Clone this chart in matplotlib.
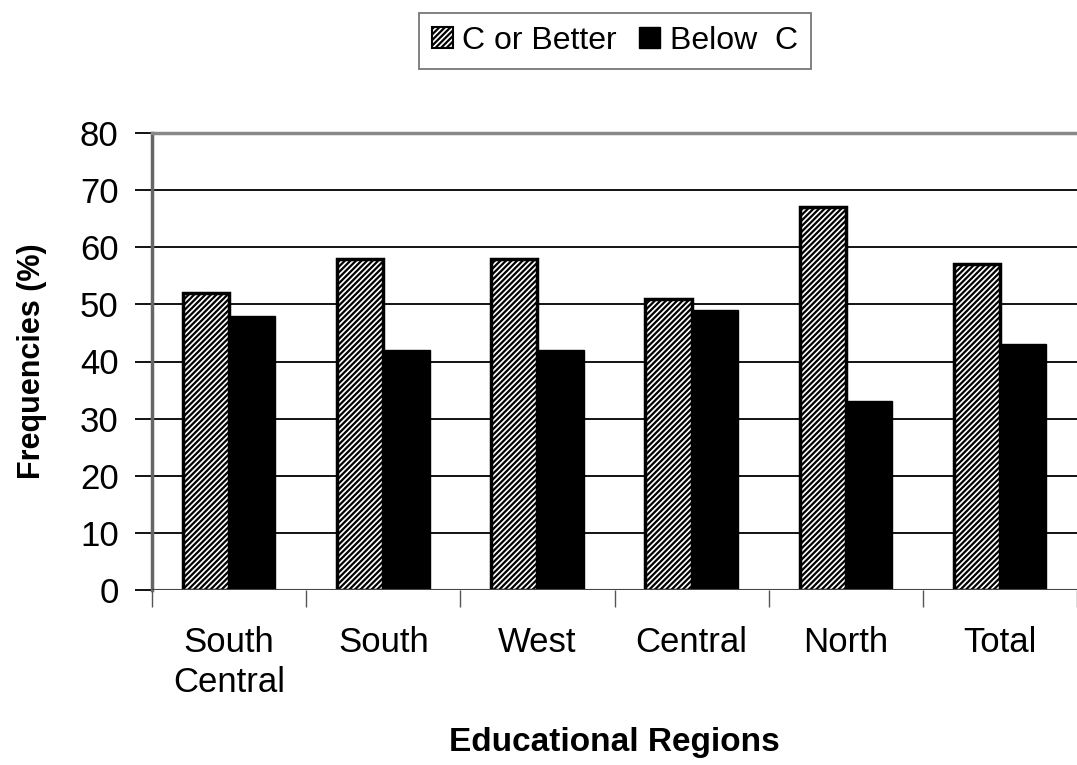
import numpy as np
import matplotlib.pyplot as plt
from matplotlib.patches import Patch

plt.rcParams['font.family'] = ['Liberation Sans', 'DejaVu Sans']
plt.rcParams['hatch.linewidth'] = 1.6

regions = ['South\nCentral', 'South', 'West', 'Central', 'North', 'Total']
c_or_better = [52, 58, 58, 51, 67, 57]
below_c = [48, 42, 42, 49, 33, 43]

fig = plt.figure(figsize=(10.77, 7.65), dpi=100)
ax = fig.add_axes([152 / 1077, 1 - 590 / 765, 925 / 1077, 457 / 765])

x = np.arange(len(regions))
w = 0.3
ax.bar(x - w / 2, c_or_better, w, facecolor='white', edgecolor='black',
       hatch='//////', linewidth=2.5, zorder=3)
ax.bar(x + w / 2, below_c, w, facecolor='black', edgecolor='black',
       linewidth=1, zorder=3)

ax.set_xlim(-0.5, len(regions) - 0.5)
ax.set_ylim(0, 80)
ax.set_yticks(range(0, 81, 10))
ax.yaxis.grid(True, color='black', linewidth=1.3, zorder=0)

# category ticks sit between the groups
ax.set_xticks(np.arange(-0.5, len(regions)), minor=False)
ax.set_xticklabels([])
ax.set_xticks(x, minor=True)
ax.set_xticklabels(regions, minor=True, fontsize=25, linespacing=1.25)
ax.tick_params(axis='x', which='major', length=12, width=1, color='#555555')
ax.tick_params(axis='x', which='minor', length=0, pad=26)
ax.tick_params(axis='y', length=12, width=1.3, labelsize=25, pad=12)

for s in ['right', 'bottom']:
    ax.spines[s].set_visible(False)
ax.spines['left'].set_color('#666666')
ax.spines['left'].set_linewidth(2.5)
ax.spines['top'].set_color('#888888')
ax.spines['top'].set_linewidth(2.5)
ax.axhline(0, color='#444444', linewidth=1.5, zorder=4)

ax.set_ylabel('Frequencies (%)', fontsize=22, fontweight='bold', labelpad=24)
fig.text(614 / 1077, 1 - 743 / 765, 'Educational Regions', fontsize=24,
         fontweight='bold', ha='center', va='center')

handles = [Patch(facecolor='white', edgecolor='black', hatch='//////', linewidth=1.5),
           Patch(facecolor='black', edgecolor='black')]
leg = fig.legend(handles, ['C or Better', 'Below  C'], loc='center',
                 bbox_to_anchor=(615 / 1077, 1 - 41 / 765), ncol=2, fontsize=23,
                 frameon=True, fancybox=False, edgecolor='#555555',
                 handlelength=0.65, handleheight=0.65, handletextpad=0.3,
                 columnspacing=0.7, borderpad=0.4)
leg.get_frame().set_linewidth(1.3)

fig.savefig('out.png', dpi=100)
